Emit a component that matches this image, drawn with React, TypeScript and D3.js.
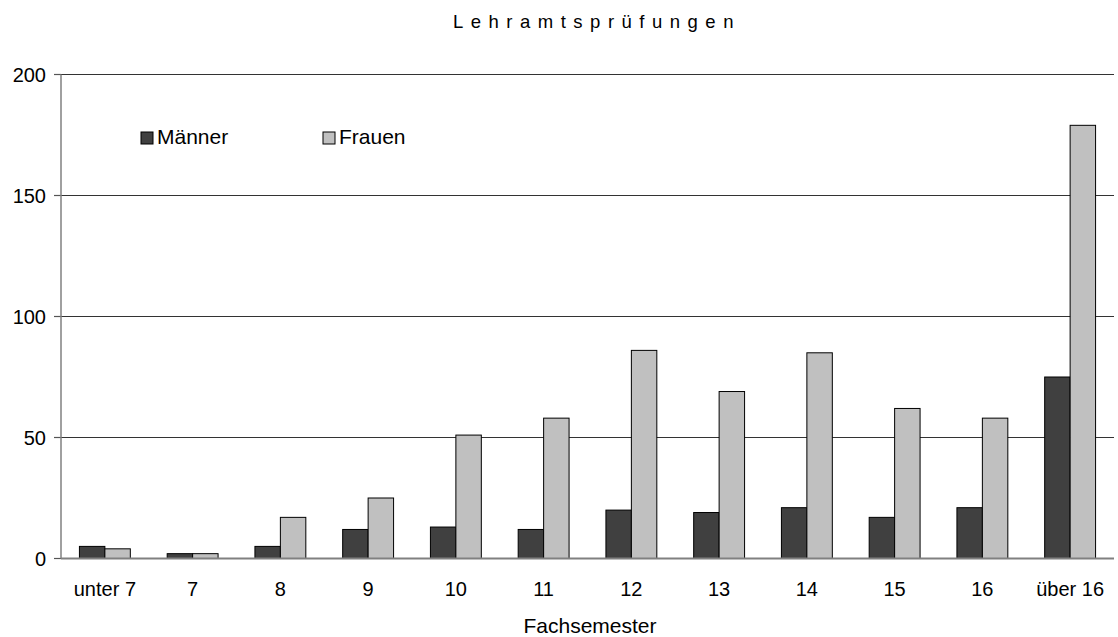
import React from "react";
import * as d3 from "d3";

const categories = ["unter 7", "7", "8", "9", "10", "11", "12", "13", "14", "15", "16", "über 16"];
const maenner = [5, 2, 5, 12, 13, 12, 20, 19, 21, 17, 21, 75];
const frauen = [4, 2, 17, 25, 51, 58, 86, 69, 85, 62, 58, 179];
const yTicks = [0, 50, 100, 150, 200];
const seriesNames = ["Männer", "Frauen"];
const seriesColors = ["#404040", "#c0c0c0"];

const W = 1118;
const H = 637;
const left = 61;
const right = 1114;
const top = 74.5;
const bottom = 558.5;
const FONT = "'Liberation Sans', Arial, sans-serif";

export default function App() {
  const x = d3.scaleBand<string>().domain(categories).range([left, right]).paddingInner(0.42).paddingOuter(0.21);
  const x1 = d3.scaleBand<string>().domain(seriesNames).range([0, x.bandwidth()]).padding(0);
  const y = d3.scaleLinear().domain([0, 200]).range([bottom, top]);
  const series = [maenner, frauen];

  return (
    <svg width={W} height={H} style={{ position: "absolute", left: 0, top: 0, background: "#fff" }} fontFamily={FONT}>
      <rect x={0} y={0} width={W} height={H} fill="#fff" />
      <text x={453} y={28} fontSize={18.5} letterSpacing={7.5} fill="#000">Lehramtsprüfungen</text>

      {yTicks.filter((t) => t > 0).map((t) => (
        <line key={"g" + t} x1={left} x2={right} y1={y(t)} y2={y(t)} stroke="#333" strokeWidth={1.2} />
      ))}
      {yTicks.map((t) => (
        <g key={"t" + t}>
          <line x1={left - 7} x2={left} y1={y(t)} y2={y(t)} stroke="#555" strokeWidth={1.2} />
          <text x={46} y={y(t)} dy="0.36em" textAnchor="end" fontSize={20} fill="#000">{t}</text>
        </g>
      ))}

      {categories.map((c, i) => (
        <g key={c} transform={`translate(${x(c)},0)`}>
          {series.map((s, k) => (
            <rect
              key={k}
              x={x1(seriesNames[k])}
              y={y(s[i])}
              width={x1.bandwidth()}
              height={y(0) - y(s[i])}
              fill={seriesColors[k]}
              stroke="#000"
              strokeWidth={1}
            />
          ))}
        </g>
      ))}

      <line x1={left} x2={left} y1={top} y2={bottom} stroke="#808080" strokeWidth={1.5} />
      <line x1={left} x2={right} y1={bottom} y2={bottom} stroke="#808080" strokeWidth={2} />

      {categories.map((c) => (
        <text key={"l" + c} x={(x(c) as number) + x.bandwidth() / 2} y={596} textAnchor="middle" fontSize={20} fill="#000">{c}</text>
      ))}
      <text x={590} y={633} textAnchor="middle" fontSize={21} fill="#000">Fachsemester</text>

      {seriesNames.map((n, k) => {
        const lx = k === 0 ? 141 : 323;
        return (
          <g key={n}>
            <rect x={lx} y={132} width={12} height={12} fill={seriesColors[k]} stroke="#000" strokeWidth={1} />
            <text x={lx + 16} y={143.5} fontSize={21} fill="#000">{n}</text>
          </g>
        );
      })}
    </svg>
  );
}
